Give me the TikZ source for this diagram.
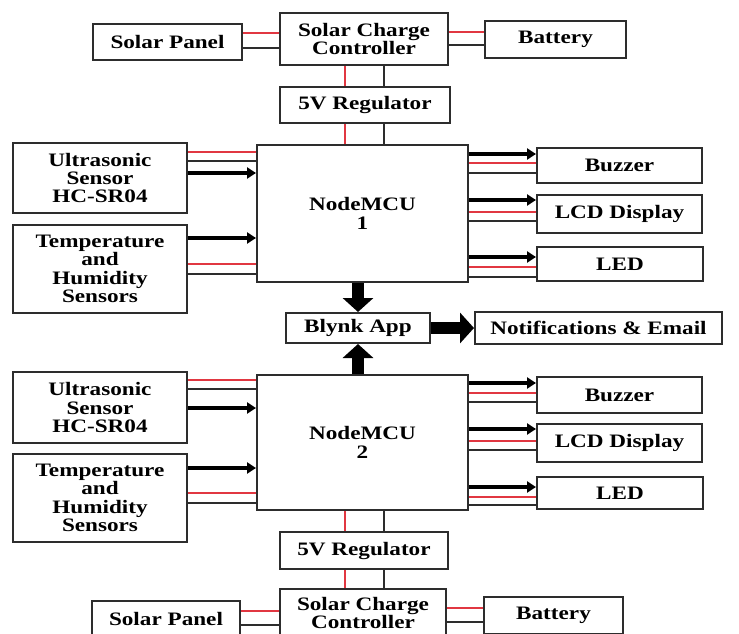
\documentclass[tikz,border=0pt]{standalone}
\usepackage{fontspec}
\setmainfont{Liberation Serif}[FakeStretch=1.22]
\usetikzlibrary{arrows.meta}
\definecolor{wred}{RGB}{225,55,65}
\definecolor{wblk}{RGB}{45,45,45}
\newcommand\hwire[4]{\draw[#1] (#2.east |- 0,#4) -- (#3.west |- 0,#4);}
\newcommand\vwire[4]{\draw[#1] (#2.south -| #4,0) -- (#3.north -| #4,0);}
\begin{document}
\begin{tikzpicture}[x=1pt,y=-1pt,
 box/.style={draw=wblk,line width=2pt,inner sep=0pt,align=center,fill=white,
   font=\fontsize{19}{18.3}\selectfont\bfseries},
 rw/.style={draw=wred,line width=1.5pt},
 bw/.style={draw=wblk,line width=1.5pt},
 sig/.style={draw=black,line width=4.5pt,-{Triangle[width=11pt,length=9pt]}},
 big/.style={draw=black,line width=12pt,-{Triangle[width=30pt,length=14pt]}}]
\useasboundingbox (0,0) rectangle (739,634);
\fill[white] (0,0) rectangle (739,634);

% ---------- top power chain ----------
\node[box,minimum width=149pt,minimum height=36pt] (sp1) at (167.5,42) {Solar Panel};
\node[box,minimum width=168pt,minimum height=52pt] (scc1) at (364,39) {Solar Charge\\Controller};
\node[box,minimum width=141pt,minimum height=37pt] (bat1) at (555.5,39.5) {Battery};
\node[box,minimum width=170pt,minimum height=36pt] (reg1) at (365,105) {5V Regulator};

% ---------- NodeMCU 1 group ----------
\node[box,minimum width=211pt,minimum height=137pt] (nm1) at (362.5,213.5) {NodeMCU\\1};
\node[box,minimum width=174pt,minimum height=70pt] (us1) at (100,178) {Ultrasonic\\Sensor\\HC-SR04};
\node[box,minimum width=174pt,minimum height=88pt] (th1) at (100,269) {Temperature\\and\\Humidity\\Sensors};
\node[box,minimum width=165pt,minimum height=35pt] (bz1) at (619.5,165.5) {Buzzer};
\node[box,minimum width=165pt,minimum height=38pt] (lcd1) at (619.5,214) {LCD Display};
\node[box,minimum width=166pt,minimum height=34pt] (led1) at (620,264) {LED};

% ---------- Blynk ----------
\node[box,minimum width=144pt,minimum height=30pt] (blynk) at (358,328) {Blynk App};
\node[box,minimum width=247pt,minimum height=32pt] (notif) at (598.5,328) {Notifications \& Email};

% ---------- NodeMCU 2 group ----------
\node[box,minimum width=211pt,minimum height=135pt] (nm2) at (362.5,442.5) {NodeMCU\\2};
\node[box,minimum width=174pt,minimum height=71pt] (us2) at (100,407.5) {Ultrasonic\\Sensor\\HC-SR04};
\node[box,minimum width=174pt,minimum height=88pt] (th2) at (100,498) {Temperature\\and\\Humidity\\Sensors};
\node[box,minimum width=165pt,minimum height=36pt] (bz2) at (619.5,395) {Buzzer};
\node[box,minimum width=165pt,minimum height=38pt] (lcd2) at (619.5,443) {LCD Display};
\node[box,minimum width=166pt,minimum height=32pt] (led2) at (620,493) {LED};

% ---------- bottom power chain ----------
\node[box,minimum width=168pt,minimum height=37pt] (reg2) at (364,550.5) {5V Regulator};
\node[box,minimum width=166pt,minimum height=48pt] (scc2) at (363,613) {Solar Charge\\Controller};
\node[box,minimum width=148pt,minimum height=36pt] (sp2) at (166,619) {Solar Panel};
\node[box,minimum width=139pt,minimum height=37pt] (bat2) at (553.5,615.5) {Battery};

% ---------- power wires ----------
\hwire{rw}{sp1}{scc1}{33}
\hwire{bw}{sp1}{scc1}{48}
\hwire{rw}{scc1}{bat1}{32}
\hwire{bw}{scc1}{bat1}{45}
\vwire{rw}{scc1}{reg1}{345}
\vwire{bw}{scc1}{reg1}{384}
\vwire{rw}{reg1}{nm1}{345}
\vwire{bw}{reg1}{nm1}{384}

\vwire{rw}{nm2}{reg2}{345}
\vwire{bw}{nm2}{reg2}{384}
\vwire{rw}{reg2}{scc2}{345}
\vwire{bw}{reg2}{scc2}{384}
\hwire{rw}{sp2}{scc2}{611}
\hwire{bw}{sp2}{scc2}{625}
\hwire{rw}{scc2}{bat2}{608}
\hwire{bw}{scc2}{bat2}{622}

% ---------- sensors -> NodeMCU 1 ----------
\hwire{rw}{us1}{nm1}{152}
\hwire{bw}{us1}{nm1}{161}
\hwire{sig}{us1}{nm1}{173}
\hwire{sig}{th1}{nm1}{238}
\hwire{rw}{th1}{nm1}{264}
\hwire{bw}{th1}{nm1}{274}

% ---------- NodeMCU 1 -> outputs ----------
\hwire{sig}{nm1}{bz1}{154}
\hwire{rw}{nm1}{bz1}{163}
\hwire{bw}{nm1}{bz1}{173}
\hwire{sig}{nm1}{lcd1}{200}
\hwire{rw}{nm1}{lcd1}{212}
\hwire{bw}{nm1}{lcd1}{221}
\hwire{sig}{nm1}{led1}{257}
\hwire{rw}{nm1}{led1}{267}
\hwire{bw}{nm1}{led1}{277}

% ---------- sensors -> NodeMCU 2 ----------
\hwire{rw}{us2}{nm2}{380}
\hwire{bw}{us2}{nm2}{389}
\hwire{sig}{us2}{nm2}{408}
\hwire{sig}{th2}{nm2}{468}
\hwire{rw}{th2}{nm2}{493}
\hwire{bw}{th2}{nm2}{503}

% ---------- NodeMCU 2 -> outputs ----------
\hwire{sig}{nm2}{bz2}{383}
\hwire{rw}{nm2}{bz2}{393}
\hwire{bw}{nm2}{bz2}{402}
\hwire{sig}{nm2}{lcd2}{429}
\hwire{rw}{nm2}{lcd2}{441}
\hwire{bw}{nm2}{lcd2}{450}
\hwire{sig}{nm2}{led2}{487}
\hwire{rw}{nm2}{led2}{497}
\hwire{bw}{nm2}{led2}{505}

% ---------- Blynk arrows ----------
\draw[big] (blynk.north |- nm1.south) -- (blynk.north);
\draw[big] (blynk.south |- nm2.north) -- (blynk.south);
\draw[big] (blynk.east) -- (notif.west);
\end{tikzpicture}
\end{document}
